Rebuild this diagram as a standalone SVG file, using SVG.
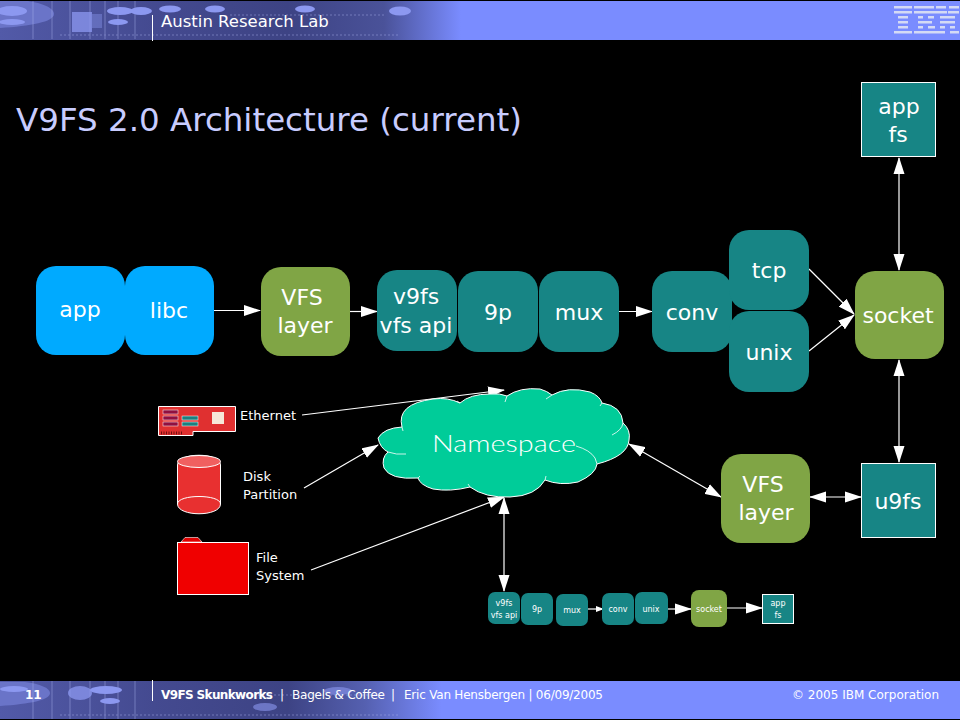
<svg xmlns="http://www.w3.org/2000/svg" width="960" height="720" viewBox="0 0 960 720">
<defs>
<style>
text{font-family:"DejaVu Sans","Liberation Sans",sans-serif;fill:#fff}
.l{font-size:22px;text-anchor:middle}
.s{font-size:13px}
.teal{fill:#178585}
.grn{fill:#80a545}
.blu{fill:#00aaff}
.c{stroke:#fff;stroke-width:1.2;fill:none}
.mini{font-size:8px;text-anchor:middle}
.tex{stroke:#aab2ee;stroke-width:1;opacity:.45}
.lobe{fill:#8c98f0}
</style>
<linearGradient id="g1" x1="0" x2="1" y1="0" y2="0"><stop offset="0" stop-color="#525aa8"/><stop offset=".16" stop-color="#444a90"/><stop offset=".3" stop-color="#3d4384"/><stop offset=".4" stop-color="#4a5299"/><stop offset=".48" stop-color="#7a8cff"/><stop offset="1" stop-color="#7a8cff"/></linearGradient>
<linearGradient id="g2" x1="0" x2="1" y1="0" y2="0"><stop offset="0" stop-color="#525aa8"/><stop offset=".16" stop-color="#444a90"/><stop offset=".3" stop-color="#3d4384"/><stop offset=".38" stop-color="#5560b0"/><stop offset=".46" stop-color="#7a8cff"/><stop offset="1" stop-color="#7a8cff"/></linearGradient>
<marker id="a" markerWidth="17" markerHeight="12" refX="16" refY="6" orient="auto-start-reverse" markerUnits="userSpaceOnUse"><path d="M0 0.500L17 6L0 11.500Z" fill="#fff"/></marker>
<marker id="b" markerWidth="8" markerHeight="6" refX="7" refY="3" orient="auto" markerUnits="userSpaceOnUse"><path d="M0 0L8 3L0 6Z" fill="#fff"/></marker>
<g id="strip">
<g class="tex"><path d="M33 0V38M52 0V38M70 0V38M90 0V38M105 0V38M118 0V38M135 0V38"/><path d="M60 34H400" stroke-dasharray="2 2"/><path d="M230 14H385" stroke-dasharray="2 2"/></g>
</g>
</defs>
<rect width="960" height="720" fill="#000"/>
<g id="header">
<rect x="0" y="1" width="960" height="39" fill="url(#g1)"/>
<path d="M0 1H28C42 3 54 8 54 14C54 22 30 26 0 28Z" fill="#6a74c8"/>
<use href="#strip" y="1"/>
<g class="lobe"><ellipse cx="12" cy="11" rx="15" ry="5"/><ellipse cx="12" cy="22" rx="13" ry="3"/><rect x="72" y="12" width="20" height="20" opacity=".75"/><rect x="92" y="14" width="10" height="14" opacity=".4"/><ellipse cx="120" cy="11" rx="13" ry="4"/><ellipse cx="141" cy="11" rx="11" ry="4"/><ellipse cx="118" cy="22" rx="10" ry="3"/><ellipse cx="170" cy="9" rx="11" ry="3.500"/><ellipse cx="215" cy="9" rx="10" ry="3.500"/><ellipse cx="305" cy="9" rx="10" ry="3.500"/><ellipse cx="400" cy="11" rx="11" ry="4.500"/></g>
<line x1="152.500" y1="15" x2="152.500" y2="41" stroke="#fff"/>
<text x="161" y="27" font-size="16.500">Austin Research Lab</text>
<g fill="#d4daf5"><rect x="894" y="6" width="18" height="2.500"/><rect x="914" y="6" width="20" height="2.500"/><rect x="936" y="6" width="10" height="2.500"/><rect x="949" y="6" width="10" height="2.500"/><rect x="894" y="11" width="18" height="2.500"/><rect x="914" y="11" width="22" height="2.500"/><rect x="936" y="11" width="11" height="2.500"/><rect x="948" y="11" width="11" height="2.500"/><rect x="898" y="16" width="10" height="2.500"/><rect x="918" y="16" width="5" height="2.500"/><rect x="928" y="16" width="6" height="2.500"/><rect x="940" y="16" width="15" height="2.500"/><rect x="898" y="21" width="10" height="2.500"/><rect x="918" y="21" width="14" height="2.500"/><rect x="940" y="21" width="15" height="2.500"/><rect x="898" y="26" width="10" height="2.500"/><rect x="918" y="26" width="5" height="2.500"/><rect x="928" y="26" width="7" height="2.500"/><rect x="940" y="26" width="5" height="2.500"/><rect x="950" y="26" width="5" height="2.500"/><rect x="894" y="31" width="18" height="2.500"/><rect x="914" y="31" width="22" height="2.500"/><rect x="936" y="31" width="9" height="2.500"/><rect x="950" y="31" width="9" height="2.500"/></g>
</g>
<text x="16" y="131" font-size="32.500" style="fill:#c8ccff">V9FS 2.0 Architecture (current)</text>
<g id="connectors">
<path class="c" marker-end="url(#a)" d="M213 310.500H260"/>
<path class="c" marker-end="url(#a)" d="M350 311.500H377"/>
<path class="c" marker-end="url(#a)" d="M619 311.500H652"/>
<path class="c" marker-end="url(#a)" d="M809 269L854 314"/>
<path class="c" marker-end="url(#a)" d="M809 351L854 315"/>
<path class="c" marker-start="url(#a)" marker-end="url(#a)" d="M899 158V270"/>
<path class="c" marker-start="url(#a)" marker-end="url(#a)" d="M899 360V462"/>
<path class="c" marker-start="url(#a)" marker-end="url(#a)" d="M810 497H861"/>
<path class="c" marker-start="url(#a)" marker-end="url(#a)" d="M629 444L721 497"/>
<path class="c" marker-end="url(#a)" d="M302 415L504 390"/>
<path class="c" marker-end="url(#a)" d="M304 488L378 445"/>
<path class="c" marker-end="url(#a)" d="M311 570L504 497"/>
<path class="c" marker-start="url(#a)" marker-end="url(#a)" d="M504 498V591"/>
<path class="c" marker-end="url(#b)" d="M588 609H603"/>
<path class="c" marker-end="url(#a)" d="M668 609H691"/>
<path class="c" marker-end="url(#a)" d="M727 608H762"/>
</g>
<g id="app"><rect class="blu" x="36" y="266" width="89" height="89" rx="20"/><text class="l" x="80" y="317">app</text></g>
<g id="libc"><rect class="blu" x="125" y="266" width="89" height="89" rx="20"/><text class="l" x="169" y="318">libc</text></g>
<g id="vfs1"><rect class="grn" x="261" y="267" width="89" height="89" rx="20"/><text class="l" x="302" y="305">VFS</text><text class="l" x="305" y="333">layer</text></g>
<g id="v9fs"><rect class="teal" x="377" y="270" width="80" height="81" rx="20"/><text class="l" x="416" y="304">v9fs</text><text class="l" x="416" y="333">vfs api</text></g>
<g id="n9p"><rect class="teal" x="458" y="271" width="80" height="81" rx="20"/><text class="l" x="498" y="320">9p</text></g>
<g id="mux"><rect class="teal" x="539" y="271" width="80" height="81" rx="20"/><text class="l" x="579" y="320">mux</text></g>
<g id="conv"><rect class="teal" x="652" y="271" width="80" height="81" rx="20"/><text class="l" x="692" y="320">conv</text></g>
<g id="tcp"><rect class="teal" x="729" y="230" width="80" height="80" rx="20"/><text class="l" x="769" y="278">tcp</text></g>
<g id="unix"><rect class="teal" x="729" y="311" width="80" height="81" rx="20"/><text class="l" x="769" y="360">unix</text></g>
<g id="socket"><rect class="grn" x="855" y="271" width="89" height="88" rx="20"/><text class="l" x="898" y="323">socket</text></g>
<g id="appfs"><rect class="teal" x="861.500" y="82.500" width="74" height="74" stroke="#fff"/><text class="l" x="899" y="114">app</text><text class="l" x="898" y="142">fs</text></g>
<g id="u9fs"><rect class="teal" x="861.500" y="463.500" width="74" height="74" stroke="#fff"/><text class="l" x="898" y="509">u9fs</text></g>
<g id="vfs2"><rect class="grn" x="721" y="454" width="89" height="89" rx="20"/><text class="l" x="763" y="492">VFS</text><text class="l" x="766" y="520">layer</text></g>
<g id="namespace">
<path d="M378 438Q384 428 402 427Q396 404 433 399Q448 397 460 403Q470 394 490 394Q500 393 507 396Q520 387 540 389Q547 391 552 395Q568 386 590 392Q600 396 602 403Q622 406 623 423Q631 430 629 440Q628 456 597 464Q596 474 578 482Q560 486 545 480Q536 496 510 497Q485 498 470 487Q450 492 433 489Q420 485 418 478Q390 480 384 468Q381 458 388 452Q380 448 378 438Z" fill="#00cc99" stroke="#fff" stroke-width="1"/>
<path d="M402 427L403 431M388 452Q396 455 406 454M418 478L420 476M470 487L468 484M545 480L546 476M597 464L595 458Q590 450 576 446M623 423Q622 430 612 435M602 403L600 406M552 395L546 399M507 396L505 402M460 403L457 401" fill="none" stroke="#fff" stroke-width=".8"/>
<text x="432" y="452" font-size="24" textLength="144" lengthAdjust="spacingAndGlyphs" style="font-family:'Lato','Liberation Sans',sans-serif;font-weight:300">Namespace</text>
</g>
<g id="ethernet">
<path d="M158.500 406.500H235.500V431.500H193V435.500H158.500Z" fill="#e03030" stroke="#fff"/>
<rect x="163" y="410" width="15" height="4" fill="#901040" stroke="#fff" stroke-width=".5"/><rect x="163" y="416" width="15" height="4" fill="#901040" stroke="#fff" stroke-width=".5"/><rect x="163" y="422" width="15" height="4" fill="#901040" stroke="#fff" stroke-width=".5"/>
<rect x="182" y="416" width="16" height="4" fill="#1b8080" stroke="#fff" stroke-width=".5"/><rect x="182" y="422" width="16" height="4" fill="#1b8080" stroke="#fff" stroke-width=".5"/>
<rect x="212" y="412" width="12" height="12" fill="#f6e8d8"/>
<path d="M161 433H183" stroke="#701010" stroke-width="3" stroke-dasharray="1 1.500"/>
<text class="s" x="240" y="420">Ethernet</text></g>
<g id="disk">
<path d="M177.500 465C177.500 452 220.500 452 220.500 465V504C220.500 517 177.500 517 177.500 504Z" fill="#e83030" stroke="#fff"/>
<ellipse cx="199" cy="461.500" rx="21.500" ry="6" fill="#f06060" stroke="#fff"/>
<path d="M177.500 504C177.500 494 220.500 494 220.500 504" fill="none" stroke="#fff"/>
<text class="s" x="243" y="481">Disk</text><text class="s" x="243" y="499">Partition</text></g>
<g id="filesystem">
<path d="M181 542L185 537.500H198L202 542Z" fill="#e00000" stroke="#fff" stroke-width=".6"/>
<rect x="177.500" y="542.500" width="71" height="52" fill="#f00000" stroke="#fff"/>
<text class="s" x="256" y="562">File</text><text class="s" x="256" y="580">System</text></g>
<g id="mini">
<rect class="teal" x="488" y="592" width="32" height="32" rx="7"/><text class="mini" x="504" y="606">v9fs</text><text class="mini" x="504" y="618">vfs api</text>
<rect class="teal" x="521" y="593" width="32" height="32" rx="7"/><text class="mini" x="537" y="612">9p</text>
<rect class="teal" x="556" y="594" width="32" height="32" rx="7"/><text class="mini" x="572" y="613">mux</text>
<rect class="teal" x="602" y="593" width="32" height="32" rx="7"/><text class="mini" x="618" y="612">conv</text>
<rect class="teal" x="635" y="592" width="33" height="32" rx="7"/><text class="mini" x="651" y="612">unix</text>
<rect class="grn" x="691" y="590" width="36" height="37" rx="8"/><text class="mini" x="709" y="612">socket</text>
<rect class="teal" x="762.500" y="594.500" width="31" height="29" stroke="#fff"/><text class="mini" x="778" y="606">app</text><text class="mini" x="778" y="618">fs</text>
</g>
<g id="footer">
<rect x="0" y="681" width="960" height="38" fill="url(#g2)"/>
<path d="M0 682H25C40 684 50 688 50 693C50 700 30 704 0 706Z" fill="#6a74c8"/>
<use href="#strip" y="681"/>
<g class="lobe"><ellipse cx="14" cy="689" rx="14" ry="3"/><ellipse cx="80" cy="693" rx="12" ry="7" opacity=".75"/><ellipse cx="106" cy="690" rx="16" ry="4"/><ellipse cx="110" cy="701" rx="10" ry="3"/><ellipse cx="265" cy="707" rx="12" ry="4" opacity=".6"/><ellipse cx="338" cy="691" rx="14" ry="4" opacity=".6"/></g>
<line x1="152.500" y1="680" x2="152.500" y2="701" stroke="#fff"/>
<text x="25" y="699" font-size="12" font-weight="bold">11</text>
<text x="161" y="699" font-size="12" font-weight="bold" textLength="112">V9FS Skunkworks</text>
<text x="280" y="699" font-size="12">|</text>
<text x="292" y="699" font-size="12" textLength="93">Bagels &amp; Coffee</text>
<text x="391" y="699" font-size="12">|</text>
<text x="404" y="699" font-size="12" textLength="199">Eric Van Hensbergen | 06/09/2005</text>
<text x="939" y="699" font-size="12" text-anchor="end">© 2005 IBM Corporation</text>
</g>
</svg>
